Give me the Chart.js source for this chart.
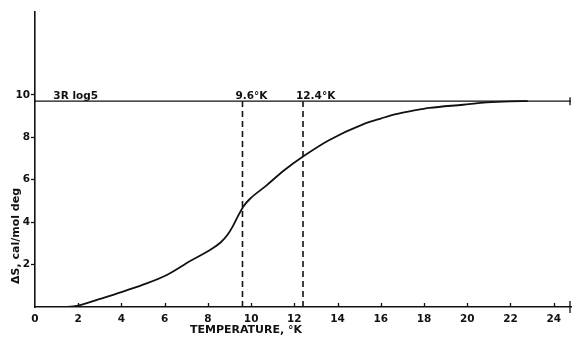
<!DOCTYPE html>
<html>
<head>
<meta charset="utf-8">
<script src="https://cdn.jsdelivr.net/npm/chart.js@4"></script>
<style>
  html, body { margin: 0; padding: 0; background: #fff; }
  #wrap { width: 576px; height: 340px; }
</style>
</head>
<body>
<div id="wrap"><canvas id="c" width="576" height="340"></canvas></div>
<script>
// ---- data ----
const temps   = [0, 1.0, 1.5, 2.0, 3.0, 4.0, 5.0, 6.1, 7.2, 8.1, 8.6, 8.9, 9.15, 9.35, 9.65, 9.95, 10.7, 11.5, 12.4, 13.6, 15.2, 16.0, 16.7, 17.5, 18.25, 19.8, 20.9, 22.0, 22.8];
const entropy = [0, 0.0, 0.01, 0.07, 0.38, 0.7, 1.05, 1.51, 2.18, 2.69, 3.05, 3.39, 3.8, 4.2, 4.75, 5.1, 5.72, 6.42, 7.09, 7.86, 8.62, 8.88, 9.09, 9.25, 9.38, 9.53, 9.64, 9.69, 9.7];
const limitValue = 9.7;            // 3R log5
const limitLabel = "3R log5";
const transitionTemps = [9.6, 12.4];
const transitionLabels = ["9.6°K", "12.4°K"];
const xTickValues = [0, 2, 4, 6, 8, 10, 12, 14, 16, 18, 20, 22, 24];
const yTickValues = [2, 4, 6, 8, 10];
const xMin = 0, xMax = 24.8;
const yMin = 0, yMax = 13.9;
const xTitle = "TEMPERATURE, °K";
const yTitle = "ΔS, cal/mol deg";

const FONT = "DejaVu Sans";
const curve = temps.map((t, i) => ({ x: t, y: entropy[i] }));
const limitLine = [{ x: xMin, y: limitValue }, { x: xMax, y: limitValue }];
const dashed = transitionTemps.map(t => [{ x: t, y: yMin }, { x: t, y: limitValue }]);

const annot = {
  id: 'annot',
  afterDraw(chart) {
    const ctx = chart.ctx;
    const xs = chart.scales.x, ys = chart.scales.y;
    const y0 = ys.getPixelForValue(0);
    const yl = ys.getPixelForValue(limitValue);
    ctx.save();
    ctx.strokeStyle = '#111';
    ctx.lineWidth = 1.3;
    // x tick marks (inside, pointing up)
    xTickValues.forEach(v => {
      if (v === 0) return;
      const px = Math.round(xs.getPixelForValue(v)) + 0.5;
      ctx.beginPath(); ctx.moveTo(px, y0); ctx.lineTo(px, y0 - 4); ctx.stroke();
    });
    // end ticks
    const pe = xs.getPixelForValue(xMax) - 1;
    ctx.beginPath(); ctx.moveTo(pe, y0 - 6); ctx.lineTo(pe, y0 + 6); ctx.stroke();
    ctx.beginPath(); ctx.moveTo(pe, yl - 4); ctx.lineTo(pe, yl + 4); ctx.stroke();

    ctx.fillStyle = '#111';
    ctx.font = 'bold 10.5px "' + FONT + '"';
    ctx.textBaseline = 'alphabetic';
    ctx.textAlign = 'left';
    ctx.fillText(limitLabel, xs.getPixelForValue(0.85), yl - 2);
    transitionTemps.forEach((t, i) => {
      ctx.fillText(transitionLabels[i], xs.getPixelForValue(t) - 7, yl - 2);
    });
    // axis titles
    ctx.font = 'bold 11px "' + FONT + '"';
    ctx.textAlign = 'center';
    ctx.textBaseline = 'middle';
    ctx.fillText(xTitle, 246, 330);
    ctx.translate(16, 236);
    ctx.rotate(-Math.PI / 2);
    ctx.fillText(yTitle, 0, 0);
    ctx.restore();
  }
};

new Chart(document.getElementById('c'), {
  type: 'scatter',
  data: {
    datasets: [
      { data: curve, showLine: true, borderColor: '#111', borderWidth: 1.8, pointRadius: 0, cubicInterpolationMode: 'monotone' },
      { data: limitLine, showLine: true, borderColor: '#111', borderWidth: 1.4, pointRadius: 0 },
      { data: dashed[0], showLine: true, borderColor: '#111', borderWidth: 1.6, borderDash: [6, 4], pointRadius: 0 },
      { data: dashed[1], showLine: true, borderColor: '#111', borderWidth: 1.6, borderDash: [6, 4], pointRadius: 0 }
    ]
  },
  options: {
    responsive: false,
    animation: false,
    layout: { padding: { top: 12, right: 5, left: 0, bottom: 0 } },
    plugins: { legend: { display: false }, tooltip: { enabled: false } },
    scales: {
      x: {
        type: 'linear', min: xMin, max: xMax,
        border: { color: '#111', width: 1.6 },
        grid: { display: true, drawOnChartArea: false, drawTicks: false },
        ticks: { color: '#111', font: { family: FONT, size: 10.5, weight: 'bold' }, padding: 6, maxRotation: 0, autoSkip: false },
        afterBuildTicks: s => { s.ticks = xTickValues.map(v => ({ value: v })); },
        afterFit: s => { s.height = 33; }
      },
      y: {
        type: 'linear', min: yMin, max: yMax,
        border: { color: '#111', width: 1.6 },
        grid: { display: true, drawOnChartArea: false, drawTicks: true, tickLength: 4, color: '#111', tickWidth: 1.3 },
        ticks: { color: '#111', font: { family: FONT, size: 10.5, weight: 'bold' }, padding: 1 },
        afterBuildTicks: s => { s.ticks = yTickValues.map(v => ({ value: v })); },
        afterFit: s => { s.width = 35; }
      }
    }
  },
  plugins: [annot]
});
</script>
</body>
</html>
